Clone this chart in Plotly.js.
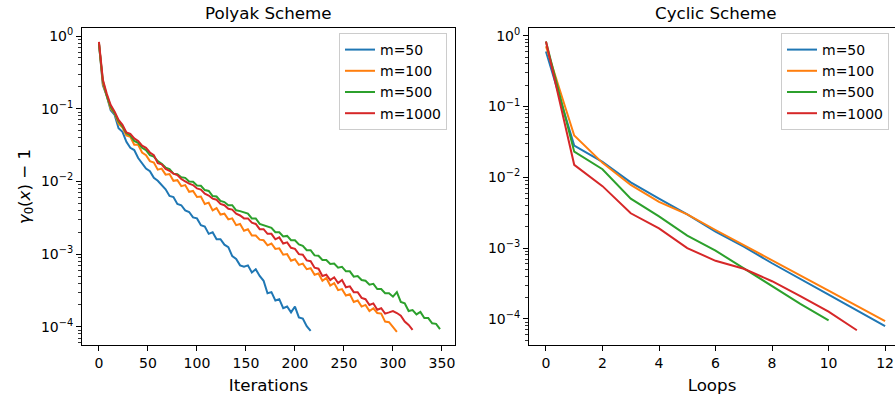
<!DOCTYPE html>
<html>
<head>
<meta charset="utf-8">
<script src="https://cdn.plot.ly/plotly-3.0.1.min.js"></script>
<style>html,body{margin:0;padding:0;background:#fff;}#chart{width:895px;height:400px;}</style>
</head>
<body>
<div id="chart"></div>
<script>
// ---------- data ----------
const seriesNames = ["m=50", "m=100", "m=500", "m=1000"];
const seriesColors = ["#1f77b4", "#ff7f0e", "#2ca02c", "#d62728"];

// Polyak scheme: iteration index (sampled every 4 iterations)
const polyakIters = [0,4,8,12,16,20,24,28,32,36,40,44,48,52,56,60,64,68,72,76,80,84,88,92,96,100,
  104,108,112,116,120,124,128,132,136,140,144,148,152,156,160,164,168,172,176,180,184,188,192,196,200,
  204,208,212,216,220,224,228,232,236,240,244,248,252,256,260,264,268,272,276,280,284,288,292,296,300,
  304,308,312,316,320,324,328,332,336,340,344,348];

const polyakM50 = [0.80,0.21,0.15,0.095,0.082,0.054,0.048,0.035,0.029,0.027,0.021,0.018,0.0150,0.0138,
  0.0112,0.0102,0.0090,0.0078,0.0063,0.0061,0.0049,0.0047,0.0040,0.0038,0.0032,0.0031,0.0025,0.0024,
  0.0019,0.0020,0.0016,0.0016,0.00135,0.00125,0.00094,0.00086,0.00070,0.00067,0.00070,0.00056,0.00062,
  0.00050,0.00043,0.00029,0.00030,0.00023,0.00024,0.00018,0.00019,0.000158,0.00019,0.000135,0.00013,
  0.000102,0.000088];

const polyakM100 = [0.80,0.22,0.15,0.100,0.086,0.062,0.055,0.043,0.041,0.032,0.032,0.025,0.023,0.019,
  0.0182,0.0145,0.0150,0.0124,0.0126,0.0102,0.0104,0.0086,0.0089,0.0072,0.0074,0.0061,0.0062,0.0049,
  0.0051,0.0040,0.0043,0.0035,0.0036,0.0030,0.0031,0.0025,0.0026,0.0021,0.0022,0.0018,0.0018,0.00158,
  0.00155,0.00132,0.00140,0.00118,0.00120,0.00098,0.00100,0.00081,0.00085,0.00071,0.00074,0.00062,
  0.00064,0.00052,0.00054,0.00043,0.00047,0.00037,0.00040,0.00032,0.00033,0.00027,0.00028,0.00022,
  0.00023,0.00019,0.00020,0.000165,0.00018,0.000155,0.000152,0.000118,0.000116,0.000100,0.000085];

const polyakM500 = [0.78,0.24,0.15,0.105,0.087,0.067,0.057,0.046,0.043,0.036,0.034,0.029,0.027,0.023,
  0.022,0.019,0.0175,0.0155,0.0148,0.0128,0.0126,0.0114,0.0112,0.0100,0.0099,0.0088,0.0087,0.0076,
  0.0074,0.0063,0.0062,0.0054,0.0052,0.0047,0.0047,0.0040,0.0039,0.0037,0.0036,0.0031,0.0031,0.0026,
  0.0025,0.0024,0.0023,0.0020,0.0020,0.00175,0.00178,0.00155,0.00155,0.00136,0.00130,0.00113,0.00113,
  0.00096,0.00095,0.00083,0.00083,0.00073,0.00074,0.00065,0.00067,0.00058,0.00058,0.00049,0.00050,
  0.00044,0.00043,0.00038,0.00039,0.00033,0.00033,0.00029,0.00029,0.00026,0.00030,0.00022,0.00021,
  0.000165,0.000170,0.000148,0.000160,0.000132,0.000132,0.000112,0.000110,0.000093];

const polyakM1000 = [0.83,0.25,0.16,0.112,0.091,0.070,0.060,0.047,0.045,0.039,0.036,0.031,0.029,0.025,
  0.023,0.0178,0.0172,0.0148,0.0140,0.0128,0.0122,0.0108,0.0100,0.0093,0.0089,0.0080,0.0077,0.0068,
  0.0064,0.0058,0.0056,0.0049,0.0047,0.0042,0.0041,0.0036,0.0034,0.0031,0.0031,0.0027,0.0026,0.0022,
  0.0022,0.0019,0.0019,0.0016,0.0017,0.0014,0.00145,0.00122,0.00118,0.00100,0.00098,0.00082,0.00080,
  0.00065,0.00063,0.00050,0.00052,0.00044,0.00048,0.00040,0.00044,0.00035,0.00036,0.00030,0.00030,
  0.00025,0.00024,0.00020,0.00021,0.000172,0.000180,0.000152,0.000158,0.000165,0.000155,0.000142,
  0.000118,0.000106,0.000091];

// Cyclic scheme: loops
const cyclicLoops = [0,1,2,3,4,5,6,7,8,9,10,11,12];
const cyclicM50   = [0.60,0.028,0.0165,0.0085,0.0050,0.0030,0.0017,0.00105,0.00061,0.00037,0.00022,0.000132,0.000079];
const cyclicM100  = [0.71,0.039,0.016,0.0078,0.0045,0.0030,0.0018,0.0011,0.00068,0.00042,0.00025,0.000152,0.000093];
const cyclicM500  = [0.83,0.023,0.013,0.0050,0.0028,0.0015,0.00092,0.00052,0.00029,0.000163,0.000095];
const cyclicM1000 = [0.83,0.015,0.0075,0.0031,0.0019,0.0010,0.00066,0.00051,0.00034,0.00021,0.000126,0.000069];

const decadeVals = [1e-4, 1e-3, 1e-2, 1e-1, 1];
const decadeText = ["10<sup>\u22124</sup>", "10<sup>\u22123</sup>", "10<sup>\u22122</sup>", "10<sup>\u22121</sup>", "10<sup>0</sup>"];

// ---------- build ----------
const polyakSets = [polyakM50, polyakM100, polyakM500, polyakM1000];
const cyclicSets = [cyclicM50, cyclicM100, cyclicM500, cyclicM1000];

const traces = [];
polyakSets.forEach((vals, i) => {
  traces.push({
    x: polyakIters.slice(0, vals.length), y: vals, type: "scatter", mode: "lines",
    name: seriesNames[i], line: {color: seriesColors[i], width: 2},
    xaxis: "x", yaxis: "y", legend: "legend"
  });
});
cyclicSets.forEach((vals, i) => {
  traces.push({
    x: cyclicLoops.slice(0, vals.length), y: vals, type: "scatter", mode: "lines",
    name: seriesNames[i], line: {color: seriesColors[i], width: 2},
    xaxis: "x2", yaxis: "y2", legend: "legend2"
  });
});

const minorVals = [];
for (let d = -6; d <= 0; d++) for (let k = 2; k <= 9; k++) minorVals.push(k * Math.pow(10, d));

const W = 895, H = 400;
const font = {family: "DejaVu Sans, sans-serif", size: 14, color: "#000"};
const commonAxis = {
  showgrid: false, zeroline: false, showline: true, linecolor: "#000", linewidth: 1,
  ticks: "outside", ticklen: 5, tickwidth: 1, tickcolor: "#000",
  tickfont: {family: "DejaVu Sans, sans-serif", size: 14, color: "#000"}, automargin: false
};
const yDomain = [1 - 345 / H, 1 - 28 / H];
const logMinor = {tickvals: minorVals, ticks: "outside", ticklen: 3, tickwidth: 0.8, tickcolor: "#000", showgrid: false};

const layout = {
  width: W, height: H, margin: {l: 0, r: 0, t: 0, b: 0},
  paper_bgcolor: "#fff", plot_bgcolor: "#fff", font: font, showlegend: true,
  xaxis: Object.assign({}, commonAxis, {
    domain: [82 / W, 455 / W], range: [-17.3, 363.3], tickmode: "linear", tick0: 0, dtick: 50,
    mirror: true, anchor: "y",
    title: {text: "Iterations", font: {family: "DejaVu Sans, sans-serif", size: 16.7, color: "#000"}, standoff: 9}
  }),
  yaxis: Object.assign({}, commonAxis, {
    domain: yDomain, type: "log", range: [-4.25, 0.11], tickmode: "array",
    tickvals: decadeVals, ticktext: decadeText, mirror: true, anchor: "x", minor: logMinor,
    title: {text: "<i>\u03b3</i><sub>0</sub>(<i>x</i>) \u2212 1", font: {family: "DejaVu Sans, sans-serif", size: 16.7, color: "#000"}, standoff: 6}
  }),
  xaxis2: Object.assign({}, commonAxis, {
    domain: [529 / W, 1], range: [-0.6, 12.35], tickmode: "linear", tick0: 0, dtick: 2,
    mirror: true, anchor: "y2",
    title: {text: "Loops", font: {family: "DejaVu Sans, sans-serif", size: 16.7, color: "#000"}, standoff: 9}
  }),
  yaxis2: Object.assign({}, commonAxis, {
    domain: yDomain, type: "log", range: [-4.37, 0.11], tickmode: "array",
    tickvals: decadeVals, ticktext: decadeText, mirror: false, anchor: "x2", minor: logMinor
  }),
  legend: {
    x: 447 / W, y: 1 - 33 / H, xanchor: "right", yanchor: "top",
    bgcolor: "rgba(255,255,255,0.8)", bordercolor: "#cccccc", borderwidth: 1,
    font: {family: "DejaVu Sans, sans-serif", size: 14, color: "#000"}
  },
  legend2: {
    x: 889 / W, y: 1 - 33 / H, xanchor: "right", yanchor: "top",
    bgcolor: "rgba(255,255,255,0.8)", bordercolor: "#cccccc", borderwidth: 1,
    font: {family: "DejaVu Sans, sans-serif", size: 14, color: "#000"}
  },
  annotations: [
    {text: "Polyak Scheme", x: (82 + 455) / 2 / W, y: 1 - 13 / H, xref: "paper", yref: "paper",
     xanchor: "center", yanchor: "middle", showarrow: false,
     font: {family: "DejaVu Sans, sans-serif", size: 16.7, color: "#000"}},
    {text: "Cyclic Scheme", x: 715.5 / W, y: 1 - 13 / H, xref: "paper", yref: "paper",
     xanchor: "center", yanchor: "middle", showarrow: false,
     font: {family: "DejaVu Sans, sans-serif", size: 16.7, color: "#000"}}
  ]
};

Plotly.newPlot("chart", traces, layout, {displayModeBar: false, staticPlot: true});
</script>
</body>
</html>
